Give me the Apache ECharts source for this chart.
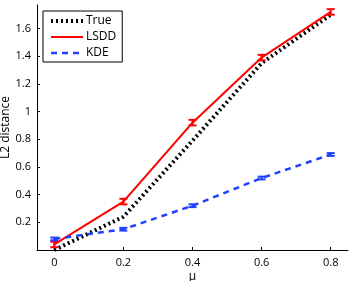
<!DOCTYPE html>
<html><head><meta charset="utf-8">
<script src="https://cdn.jsdelivr.net/npm/echarts@6/dist/echarts.min.js"></script>
<style>html,body{margin:0;padding:0;background:#fff}#c{width:349px;height:281px}</style>
</head><body><div id="c"></div>
<script>
const mu = [0, 0.2, 0.4, 0.6, 0.8];
const trueVals = [0.00, 0.24, 0.79, 1.35, 1.70];
const lsddVals = [0.04, 0.35, 0.92, 1.39, 1.72];
const lsddErr  = [0.02, 0.02, 0.02, 0.02, 0.02];
const kdeVals  = [0.08, 0.15, 0.32, 0.52, 0.69];
const kdeErr   = [0.01, 0.01, 0.01, 0.01, 0.01];
const xTicks = [0, 0.2, 0.4, 0.6, 0.8];
const yTicks = [0.2, 0.4, 0.6, 0.8, 1, 1.2, 1.4, 1.6];

const font = 'Open Sans';
function pairs(v){ return mu.map((x,i)=>[x, v[i]]); }
function errData(v,e){ return mu.map((x,i)=>[x, v[i]-e[i], v[i]+e[i]]); }
function errSeries(name, v, e, color){
  return {
    type:'custom', name: name+'_err', z:5,
    data: errData(v,e),
    renderItem: function(params, api){
      const x = api.value(0);
      const lo = api.coord([x, api.value(1)]);
      const hi = api.coord([x, api.value(2)]);
      const w = 4;
      return {type:'group', children:[
        {type:'line', shape:{x1:lo[0],y1:lo[1],x2:hi[0],y2:hi[1]}, style:{stroke:color,lineWidth:2}},
        {type:'line', shape:{x1:lo[0]-w,y1:lo[1],x2:lo[0]+w,y2:lo[1]}, style:{stroke:color,lineWidth:2}},
        {type:'line', shape:{x1:hi[0]-w,y1:hi[1],x2:hi[0]+w,y2:hi[1]}, style:{stroke:color,lineWidth:2}}
      ]};
    }
  };
}
const chart = echarts.init(document.getElementById('c'), null, {renderer:'canvas'});
chart.setOption({
  animation:false,
  textStyle:{fontFamily:font},
  grid:{left:37, top:5, right:1, bottom:31, containLabel:false, outerBoundsMode:'none'},
  legend:{
    orient:'vertical', left:43, top:11,
    data:[
      {name:'True', lineStyle:{width:4, type:[2,3], color:'#000'}},
      {name:'LSDD', lineStyle:{width:2, color:'#ff0000'}},
      {name:'KDE', lineStyle:{width:2.5, type:[6,5], color:'#2040ff'}}
    ],
    itemWidth:32, itemHeight:10, itemGap:4,
    itemStyle:{opacity:0},
    borderColor:'#000', borderWidth:1, padding:[4,6,3,6],
    textStyle:{fontFamily:font, fontSize:12, color:'#000', padding:[0,0,0,-2]},
    backgroundColor:'#fff'
  },
  xAxis:{
    type:'value', min:-0.05, max:0.85, interval:0.05,
    axisLine:{onZero:false, lineStyle:{color:'#000', width:1}},
    axisTick:{inside:true, length:3, lineStyle:{color:'#000'}, customValues:xTicks},
    axisLabel:{color:'#000', fontSize:11, fontFamily:font, margin:7, customValues:xTicks,
      formatter:v=>String(Math.round(v*10)/10)},
    splitLine:{show:false},
    name:'μ', nameLocation:'middle', nameGap:21, nameMoveOverlap:false,
    nameTextStyle:{color:'#000', fontSize:12, fontFamily:font}
  },
  yAxis:{
    type:'value', min:0, max:1.77,
    axisLine:{show:true, onZero:false, lineStyle:{color:'#000', width:1}},
    axisTick:{show:true, inside:true, length:3, lineStyle:{color:'#000'}, customValues:yTicks},
    axisLabel:{color:'#000', fontSize:11, fontFamily:font, margin:6, customValues:yTicks,
      hideOverlap:false, overflow:'none', width:40,
      formatter:v=>String(Math.round(v*10)/10)},
    splitLine:{show:false},
    name:'L2 distance', nameLocation:'middle', nameGap:25, nameMoveOverlap:false,
    nameTextStyle:{color:'#000', fontSize:12, fontFamily:font}
  },
  series:[
    {name:'True', type:'line', data:pairs(trueVals), symbol:'none', z:3,
     lineStyle:{color:'#000', width:4, type:[2,3]}, itemStyle:{color:'#000'}},
    {name:'LSDD', type:'line', data:pairs(lsddVals), symbol:'none', z:4,
     lineStyle:{color:'#ff0000', width:2}, itemStyle:{color:'#ff0000'}},
    {name:'KDE', type:'line', data:pairs(kdeVals), symbol:'none', z:4,
     lineStyle:{color:'#2040ff', width:2.5, type:[6,5]}, itemStyle:{color:'#2040ff'}},
    errSeries('LSDD', lsddVals, lsddErr, '#ff0000'),
    errSeries('KDE', kdeVals, kdeErr, '#2040ff')
  ]
});
</script></body></html>
